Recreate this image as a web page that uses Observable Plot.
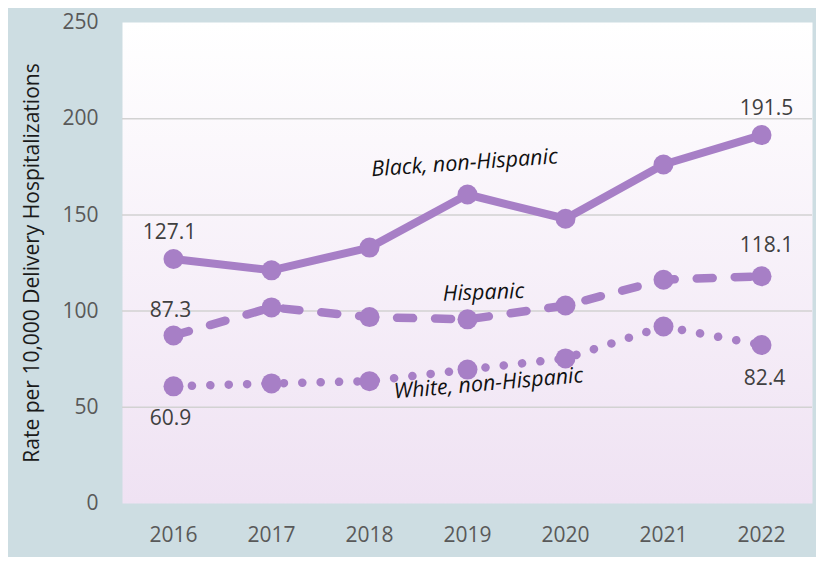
<!DOCTYPE html>
<html>
<head>
<meta charset="utf-8">
<script src="https://cdn.jsdelivr.net/npm/d3@7"></script>
<script src="https://cdn.jsdelivr.net/npm/@observablehq/plot@0.6"></script>
<style>
  html, body { margin: 0; padding: 0; background: white; }
  #chart svg { display: block; }
</style>
</head>
<body>
<div id="chart"></div>
<script>
const years = ["2016", "2017", "2018", "2019", "2020", "2021", "2022"];
const seriesNames = ["Black, non-Hispanic", "Hispanic", "White, non-Hispanic"];
const blackValues = [127.1, 121.2, 133.0, 160.6, 148.0, 176.2, 191.5];
const hispanicValues = [87.3, 101.9, 96.9, 95.7, 102.9, 116.3, 118.1];
const whiteValues = [60.9, 62.4, 63.6, 69.6, 75.4, 92.0, 82.4];
const yTicks = [0, 50, 100, 150, 200, 250];
const gridTicks = [50, 100, 150, 200];
// annotation anchor points (data space)
const annoYears = ["2019", "2019", "2019"];
const annoValues = [177, 109.7, 62.4];

const valuesBySeries = [blackValues, hispanicValues, whiteValues];
const rows = seriesNames.flatMap((s, i) => years.map((y, j) => ({series: s, year: y, value: valuesBySeries[i][j]})));
const bySeries = s => rows.filter(d => d.series === s);
const firstOf = s => [bySeries(s)[0]];
const lastOf = s => { const r = bySeries(s); return [r[r.length - 1]]; };

const purple = "#a77fc6";
const font = "'Open Sans', sans-serif";

const defs = () => {
  const g = d3.create("svg:defs");
  const lg = g.append("linearGradient").attr("id", "bgGrad").attr("x1", 0).attr("y1", 0).attr("x2", 0).attr("y2", 1);
  lg.append("stop").attr("offset", "0%").attr("stop-color", "#ffffff");
  lg.append("stop").attr("offset", "100%").attr("stop-color", "#efe2f3");
  return g.node();
};

const lineDash = {
  "Black, non-Hispanic": null,
  "Hispanic": "16,22",
  "White, non-Hispanic": "0.1,18.3"
};

const lab = {x: "year", y: "value", fill: "#404040", fontSize: 21, fontFamily: font, text: d => d.value.toFixed(1)};
const anno = {fontStyle: "italic", fontSize: 21.5, fill: "#111", fontFamily: font};

const chart = Plot.plot({
  width: 816,
  height: 565,
  marginLeft: 122,
  marginRight: 4,
  marginTop: 22,
  marginBottom: 62,
  style: {
    background: "linear-gradient(#cddde2,#cddde2) 8px 8px / 808px 549px no-repeat, white",
    fontFamily: font,
    overflow: "visible"
  },
  x: {type: "point", domain: years, padding: 0.5, label: null},
  y: {domain: [0, 250], label: null},
  marks: [
    defs,
    Plot.frame({fill: "url(#bgGrad)", stroke: null}),
    Plot.ruleY(gridTicks, {stroke: "#d2d2d2", strokeWidth: 1.5}),
    Plot.axisX({tickSize: 0, tickPadding: 24, fontSize: 21, fill: "#595959", fontFamily: font}),
    Plot.axisY({ticks: yTicks, tickSize: 0, tickPadding: 24, fontSize: 21, fill: "#595959", fontFamily: font}),
    Plot.text(["Rate per 10,000 Delivery Hospitalizations"], {
      frameAnchor: "left", textAnchor: "middle", dx: -90, dy: 0, rotate: -90, fontSize: 21, fill: "#1a1a1a", fontFamily: font
    }),
    ...seriesNames.map(s => Plot.line(bySeries(s), {
      x: "year", y: "value", stroke: purple, strokeWidth: s === seriesNames[0] ? 8 : 8.5,
      strokeDasharray: lineDash[s], strokeLinecap: "round", strokeLinejoin: "round"
    })),
    Plot.dot(rows, {x: "year", y: "value", r: 10, fill: purple, stroke: null}),
    Plot.text(firstOf(seriesNames[0]), {...lab, dx: -4, dy: -27}),
    Plot.text(lastOf(seriesNames[0]), {...lab, dx: 5, dy: -27}),
    Plot.text(firstOf(seriesNames[1]), {...lab, dx: -3, dy: -25}),
    Plot.text(lastOf(seriesNames[1]), {...lab, dx: 5, dy: -31}),
    Plot.text(firstOf(seriesNames[2]), {...lab, dx: -3, dy: 32}),
    Plot.text(lastOf(seriesNames[2]), {...lab, dx: 3, dy: 33}),
    Plot.text([0], {...anno, x: () => annoYears[0], y: () => annoValues[0], text: () => seriesNames[0], dx: -3, rotate: -4}),
    Plot.text([0], {...anno, x: () => annoYears[1], y: () => annoValues[1], text: () => seriesNames[1], dx: 16, rotate: -2}),
    Plot.text([0], {...anno, x: () => annoYears[2], y: () => annoValues[2], text: () => seriesNames[2], dx: 21, rotate: -5})
  ]
});
document.getElementById("chart").appendChild(chart);
</script>
</body>
</html>
